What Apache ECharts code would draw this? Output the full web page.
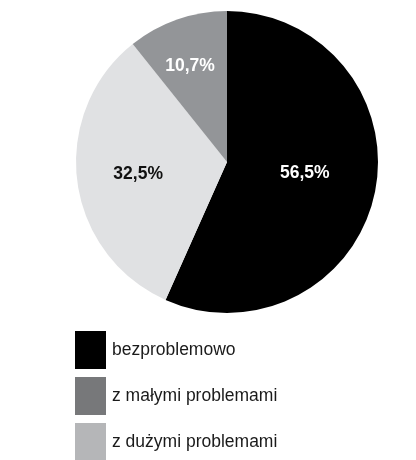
<!DOCTYPE html>
<html>
<head>
<meta charset="utf-8">
<script src="https://cdn.jsdelivr.net/npm/echarts@6/dist/echarts.min.js"></script>
<style>
  html, body { margin: 0; padding: 0; background: #ffffff; }
  #chart { width: 416px; height: 460px; }
</style>
</head>
<body>
<div id="chart"></div>
<script>
// Answer categories, in clockwise order from the top of the pie
const categories = ['bezproblemowo', 'z dużymi problemami', 'z małymi problemami'];
// Share of respondents (%) for each category
const shares = [56.5, 32.5, 10.7];
// Order of the entries in the legend
const legendOrder = ['bezproblemowo', 'z małymi problemami', 'z dużymi problemami'];

const sliceColors = ['#000000', '#e0e1e3', '#939598'];
const sliceLabelColors = ['#ffffff', '#111111', '#ffffff'];
const legendColors = {
  'bezproblemowo': '#000000',
  'z małymi problemami': '#77787a',
  'z dużymi problemami': '#b5b6b8'
};
// Nudges applied to the in-slice labels (px)
const labelNudge = [[1, -5], [-11, 2], [-11, -22]];

const fmt = v => v.toFixed(1).replace('.', ',') + '%';

const chart = echarts.init(document.getElementById('chart'), null, { renderer: 'canvas' });
chart.setOption({
  animation: false,
  backgroundColor: '#ffffff',
  legend: {
    orient: 'vertical',
    left: 75,
    top: 331,
    height: 140,
    padding: 0,
    itemWidth: 31,
    itemHeight: 38,
    itemGap: 8,
    icon: 'rect',
    selectedMode: false,
    textStyle: { fontFamily: 'Liberation Sans, Arial, sans-serif', fontSize: 17.5, color: '#1a1a1a', padding: [0, 0, 0, 1] },
    data: legendOrder.map(n => ({ name: n, itemStyle: { color: legendColors[n] } }))
  },
  series: [{
    type: 'pie',
    center: [227, 162],
    radius: 151,
    startAngle: 90,
    clockwise: true,
    silent: true,
    itemStyle: { borderWidth: 0 },
    label: {
      position: 'inside',
      fontFamily: 'Liberation Sans, Arial, sans-serif',
      fontWeight: 'bold',
      fontSize: 17.5,
      formatter: p => fmt(p.value)
    },
    labelLine: { show: false },
    labelLayout: p => ({ dx: labelNudge[p.dataIndex][0], dy: labelNudge[p.dataIndex][1] }),
    data: categories.map((c, i) => ({
      name: c,
      value: shares[i],
      itemStyle: { color: sliceColors[i] },
      label: { color: sliceLabelColors[i] }
    }))
  }]
});
</script>
</body>
</html>
